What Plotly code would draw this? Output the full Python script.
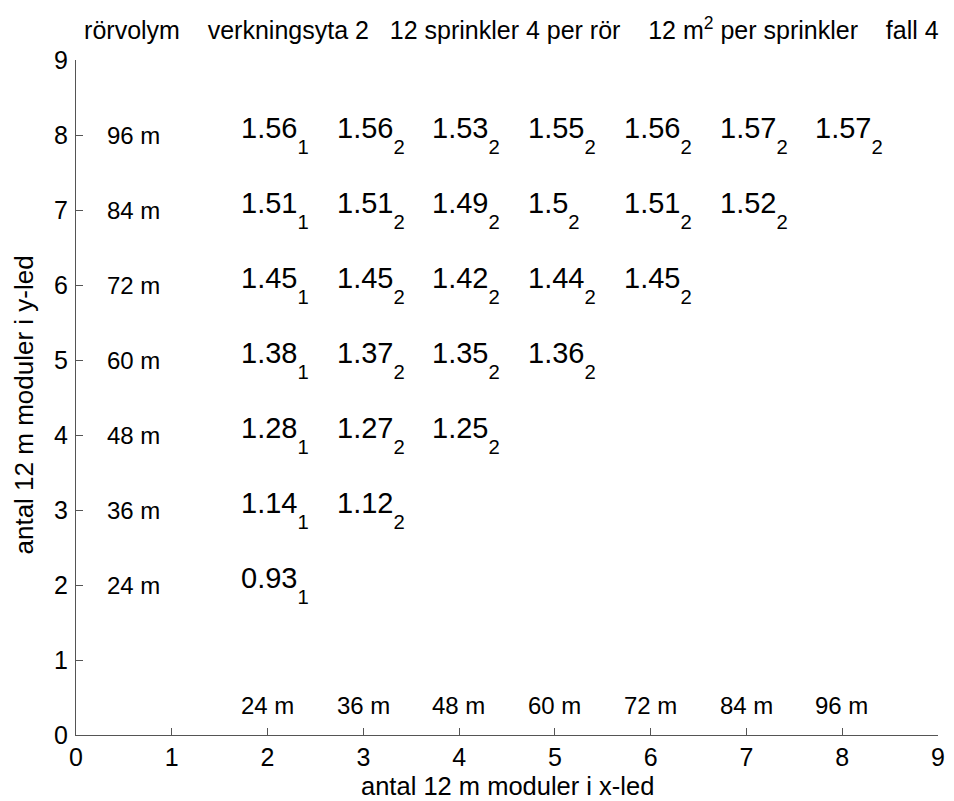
import plotly.graph_objects as go

# ---- data ----
row_y = [8, 7, 6, 5, 4, 3, 2]
row_labels = ["96 m", "84 m", "72 m", "60 m", "48 m", "36 m", "24 m"]
col_x = [2, 3, 4, 5, 6, 7, 8]
col_labels = ["24 m", "36 m", "48 m", "60 m", "72 m", "84 m", "96 m"]
values = {
    8: [1.56, 1.56, 1.53, 1.55, 1.56, 1.57, 1.57],
    7: [1.51, 1.51, 1.49, 1.5, 1.51, 1.52],
    6: [1.45, 1.45, 1.42, 1.44, 1.45],
    5: [1.38, 1.37, 1.35, 1.36],
    4: [1.28, 1.27, 1.25],
    3: [1.14, 1.12],
    2: [0.93],
}
subscripts = {
    8: [1, 2, 2, 2, 2, 2, 2],
    7: [1, 2, 2, 2, 2, 2],
    6: [1, 2, 2, 2, 2],
    5: [1, 2, 2, 2],
    4: [1, 2, 2],
    3: [1, 2],
    2: [1],
}
ticks = list(range(10))
NB = "\u00a0"
title_text = ("rörvolym" + NB * 4 + "verkningsyta 2" + NB * 3 + "12 sprinkler 4 per rör"
              + NB * 4 + "12 m<sup>2</sup> per sprinkler" + NB * 4 + "fall 4")
xlabel = "antal 12 m moduler i x-led"
ylabel = "antal 12 m moduler i y-led"

FONT = "Arial, Liberation Sans, sans-serif"
label_offset = 0.3
col_label_y = 0.4

fig = go.Figure()
fig.add_trace(go.Scatter(x=[], y=[], mode="markers", showlegend=False))

ann = []
for y, lab in zip(row_y, row_labels):
    ann.append(dict(x=label_offset, y=y, text=lab, xanchor="left", yanchor="middle",
                    showarrow=False, font=dict(size=24, color="black", family=FONT)))
for x, lab in zip(col_x, col_labels):
    ann.append(dict(x=x - label_offset, y=col_label_y, text=lab, xanchor="left",
                    yanchor="middle", showarrow=False,
                    font=dict(size=24, color="black", family=FONT)))
for y in row_y:
    for i, (v, s) in enumerate(zip(values[y], subscripts[y])):
        x = col_x[i]
        ann.append(dict(x=x - label_offset, y=y,
                        text=f"{v:g}<sub><span style='baseline-shift:-0.5em'>{s}</span></sub>",
                        xanchor="left", yanchor="middle", showarrow=False,
                        font=dict(size=29, color="black", family=FONT)))

# axis titles
ann.append(dict(xref="paper", yref="paper", x=0.5, y=0, yshift=-51, text=xlabel,
                xanchor="center", yanchor="middle", showarrow=False,
                font=dict(size=25.5, color="black", family=FONT)))
ann.append(dict(xref="paper", yref="paper", x=0, y=0.5, xshift=-53, yshift=-8, text=ylabel,
                textangle=-90, xanchor="center", yanchor="middle", showarrow=False,
                font=dict(size=26, color="black", family=FONT)))

fig.update_layout(
    width=954, height=801,
    margin=dict(l=76, r=16, t=60, b=66),
    paper_bgcolor="white", plot_bgcolor="white",
    font=dict(family=FONT, color="black", size=25),
    title=dict(text=title_text, x=0.536, xanchor="center", y=0.962, yanchor="middle",
               font=dict(size=25, color="black", family=FONT)),
    annotations=ann,
    showlegend=False,
)
axis_common = dict(range=[0, 9], tickvals=ticks, ticktext=[str(t) for t in ticks],
                   ticks="inside", ticklen=7, tickwidth=1, tickcolor="#555",
                   showline=True, linecolor="#555", linewidth=1,
                   showgrid=False, zeroline=False, mirror=False, automargin=False,
                   tickfont=dict(size=25, color="black", family=FONT))
fig.update_xaxes(**axis_common)
fig.update_yaxes(**axis_common, ticklabelstandoff=2)

fig.write_html("out.html")
